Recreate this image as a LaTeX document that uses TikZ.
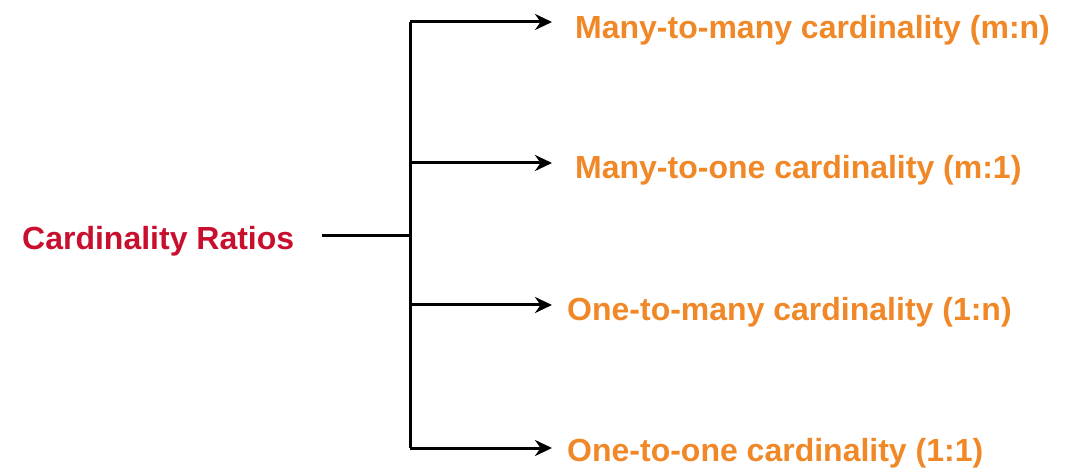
\documentclass[tikz,border=0pt]{standalone}
\usepackage{fontspec}
\setmainfont{Liberation Sans}
\usetikzlibrary{arrows.meta}
\definecolor{cardorange}{RGB}{240,136,40}
\definecolor{cardred}{RGB}{200,16,46}
\tikzset{
  lbl/.style={font=\fontsize{32}{36}\selectfont\bfseries, text=cardorange, anchor=west, inner sep=0pt},
  root/.style={font=\fontsize{32}{36}\selectfont\bfseries, text=cardred, anchor=west, inner sep=0pt},
  conn/.style={line width=3pt, black},
  arr/.style={conn, -{Stealth[length=17pt,width=16pt]}}
}
\begin{document}
\begin{tikzpicture}[x=1pt,y=-1pt]
\useasboundingbox (0,0) rectangle (1076,470);
\node[root] (root) at (22,241) {Cardinality Ratios};
\coordinate (rs) at (322,236);
\coordinate (j) at (410,236);
\coordinate (t) at (410,22);
\coordinate (b) at (410,448);
\coordinate (m1) at (410,163);
\coordinate (m2) at (410,305);
\node[lbl] (a) at (575,30) {Many-to-many cardinality (m:n)};
\node[lbl] (c) at (575,170) {Many-to-one cardinality (m:1)};
\node[lbl] (d) at (567,312) {One-to-many cardinality (1:n)};
\node[lbl] (e) at (567,453) {One-to-one cardinality (1:1)};
\draw[conn] (rs) -- (j);
\draw[conn] (t) -- (b);
\draw[arr] (t) -- (552,22);
\draw[arr] (m1) -- (552,163);
\draw[arr] (m2) -- (552,305);
\draw[arr] (b) -- (552,448);
\end{tikzpicture}
\end{document}
